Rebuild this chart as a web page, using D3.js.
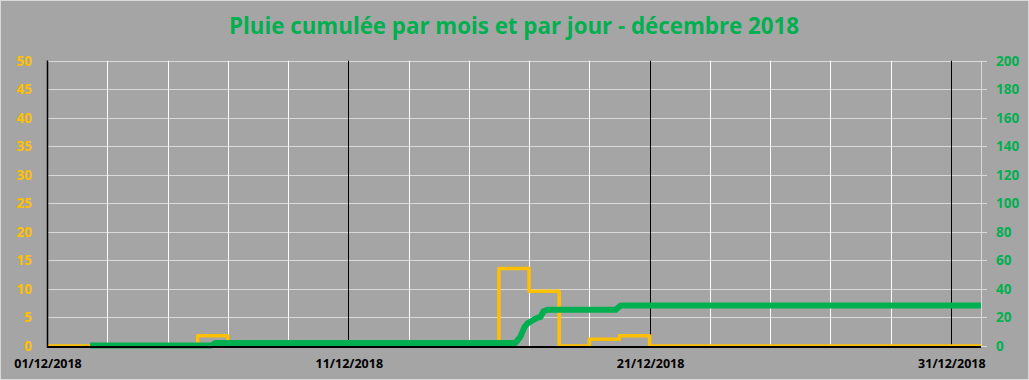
<!DOCTYPE html>
<html>
<head>
<meta charset="utf-8">
<script src="https://cdn.jsdelivr.net/npm/d3@7"></script>
<style>
  body { margin: 0; background: #fff; }
  svg { display: block; }
  text { font-family: "Open Sans", sans-serif; font-weight: 700; }
</style>
</head>
<body>
<svg id="chart"></svg>
<script>
// daily rain (mm), one value per day of December 2018
const dailyDays = d3.range(1, 32);
const dailyRain = [0, 0, 0, 0, 0, 1.8, 0, 0, 0, 0,
                   0, 0, 0, 0, 0, 13.6, 9.6, 0, 1.2, 1.8,
                   0, 0, 0, 0, 0, 0, 0, 0, 0, 0, 0];

// cumulated rain (mm), day of month with fraction
const cumulDays = [2.43, 6.45, 6.6, 16.55, 16.71, 16.85, 16.95, 17.11, 17.28, 17.38, 17.48, 17.61, 19.87, 20.04, 32.0];
const cumulRain = [0, 0, 1.8, 1.8, 6, 13, 15.5, 17.5, 19.5, 20, 24, 25, 25, 28, 28];

const leftTicks = d3.range(0, 51, 5);
const rightTicks = d3.range(0, 201, 20);
const dateLabelDays = [1, 11, 21, 31];
const title = "Pluie cumulée par mois et par jour - décembre 2018";

const width = 1029, height = 380;
const margin = { top: 60.7, right: 48, bottom: 34, left: 47 };

const svg = d3.select("#chart").attr("width", width).attr("height", height);

svg.append("rect")
    .attr("x", 0.5).attr("y", 0.5)
    .attr("width", width - 1).attr("height", height - 1)
    .attr("fill", "#a5a5a5")
    .attr("stroke", "#d9d9d9");

const dec = d => new Date(2018, 11, 1, 0, 0).getTime() + (d - 1) * 864e5;

const x = d3.scaleTime()
    .domain([new Date(2018, 11, 1), new Date(2019, 0, 1)])
    .range([margin.left, width - margin.right]);
const yL = d3.scaleLinear().domain([0, 50]).range([height - margin.bottom, margin.top]);
const yR = d3.scaleLinear().domain([0, 200]).range([height - margin.bottom, margin.top]);

// title
svg.append("text")
    .attr("x", 514).attr("y", 34)
    .attr("text-anchor", "middle")
    .attr("font-size", 22.3)
    .attr("fill", "#00b050")
    .text(title);

// horizontal grid + right tick marks
svg.append("g")
    .selectAll("line")
    .data(leftTicks)
    .join("line")
    .attr("x1", margin.left).attr("x2", width - margin.right + 6)
    .attr("y1", d => Math.round(yL(d)) + 0.5).attr("y2", d => Math.round(yL(d)) + 0.5)
    .attr("stroke", "#d9d9d9");

// vertical grid
const gridDays = d3.range(1, 32, 2);
svg.append("g")
    .selectAll("line")
    .data(gridDays)
    .join("line")
    .attr("x1", d => Math.round(x(dec(d))) + 0.5).attr("x2", d => Math.round(x(dec(d))) + 0.5)
    .attr("y1", margin.top).attr("y2", height - margin.bottom)
    .attr("stroke", d => dateLabelDays.includes(d) ? "#000" : "#fff");

svg.append("line")
    .attr("x1", Math.round(x(dec(32))) + 0.5).attr("x2", Math.round(x(dec(32))) + 0.5)
    .attr("y1", margin.top).attr("y2", height - margin.bottom)
    .attr("stroke", "#d9d9d9");

// daily rain step line
const dailyPts = dailyDays.map((d, i) => [dec(d), dailyRain[i]]);
dailyPts.push([dec(32), dailyRain[dailyRain.length - 1]]);
svg.append("path")
    .datum(dailyPts)
    .attr("fill", "none")
    .attr("stroke", "#ffc000")
    .attr("stroke-width", 3.5)
    .attr("stroke-linejoin", "round")
    .attr("d", d3.line()
        .curve(d3.curveStepAfter)
        .x(d => x(d[0]))
        .y(d => yL(d[1])));

// cumulated rain
svg.append("path")
    .datum(cumulDays.map((d, i) => [dec(d), cumulRain[i]]))
    .attr("fill", "none")
    .attr("stroke", "#00b050")
    .attr("stroke-width", 6)
    .attr("stroke-linejoin", "round")
    .attr("d", d3.line()
        .x(d => x(d[0]))
        .y(d => yR(d[1]) - 0.5));

// axes lines
svg.append("line")
    .attr("x1", margin.left).attr("x2", width - margin.right)
    .attr("y1", height - margin.bottom + 1).attr("y2", height - margin.bottom + 1)
    .attr("stroke", "#000").attr("stroke-width", 2);
svg.append("line")
    .attr("x1", margin.left + 0.5).attr("x2", margin.left + 0.5)
    .attr("y1", margin.top).attr("y2", height - margin.bottom + 2)
    .attr("stroke", "#000").attr("stroke-width", 1.5);

// left labels
svg.append("g")
    .selectAll("text")
    .data(leftTicks)
    .join("text")
    .attr("x", 32).attr("y", d => yL(d) + 5)
    .attr("text-anchor", "end")
    .attr("font-size", 13.5)
    .attr("fill", "#ffc000")
    .text(d => d);

// right labels
svg.append("g")
    .selectAll("text")
    .data(rightTicks)
    .join("text")
    .attr("x", 996).attr("y", d => yR(d) + 5)
    .attr("text-anchor", "start")
    .attr("font-size", 13.5)
    .attr("fill", "#00b050")
    .text(d => d);

// date labels
const fmt = d3.timeFormat("%d/%m/%Y");
svg.append("g")
    .selectAll("text")
    .data(dateLabelDays)
    .join("text")
    .attr("x", d => x(dec(d)) + 1).attr("y", 368)
    .attr("text-anchor", "middle")
    .attr("font-size", 12.5)
    .attr("fill", "#000")
    .text(d => fmt(new Date(dec(d))));
</script>
</body>
</html>
